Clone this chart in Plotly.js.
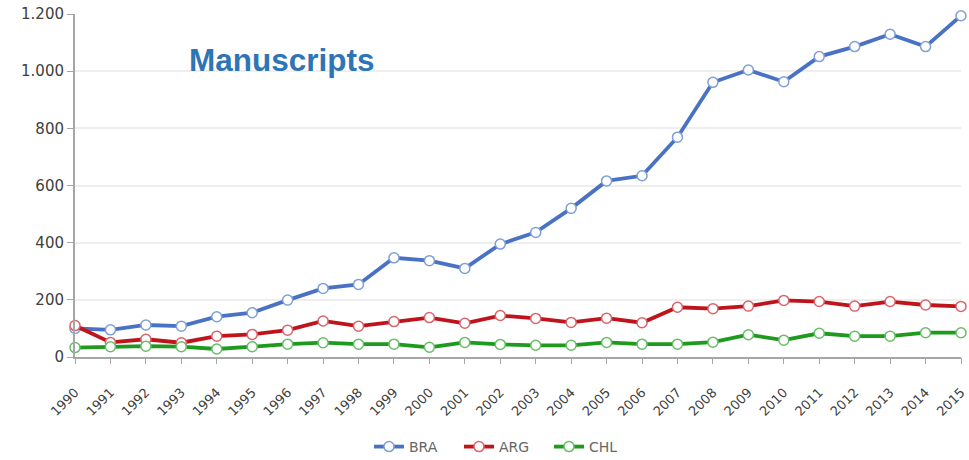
<!DOCTYPE html>
<html>
<head>
<meta charset="utf-8">
<script src="https://cdn.plot.ly/plotly-3.0.1.min.js"></script>
<style>html,body{margin:0;padding:0;background:#fff;}#chart{width:969px;height:460px;}</style>
</head>
<body>
<div id="chart"></div>
<script>
const years = [1990,1991,1992,1993,1994,1995,1996,1997,1998,1999,2000,2001,2002,2003,2004,2005,2006,2007,2008,2009,2010,2011,2012,2013,2014,2015];
const BRA = [100,95,112,108,141,155,199,240,254,347,337,310,395,436,520,616,634,769,961,1004,963,1051,1086,1129,1086,1194];
const ARG = [110,51,62,50,73,79,94,126,108,124,138,118,145,135,121,136,120,174,169,178,198,194,178,194,182,177];
const CHL = [33,36,38,36,28,36,45,50,45,45,34,51,44,41,41,51,45,45,52,78,59,83,73,73,85,85];
const seriesNames = ['BRA','ARG','CHL'];
const seriesColors = ['#4A72C4','#C0141C','#1E9A1E'];
const markerLines = ['#7F9FD8','#D9646A','#66BF66'];
const seriesData = [BRA, ARG, CHL];

const traces = seriesData.map((d,i)=>({
  x: years, y: d, name: seriesNames[i], type:'scatter', mode:'lines+markers',
  line:{color:seriesColors[i], width:3.8},
  marker:{size:10, color:'#ffffff', line:{color:markerLines[i], width:1.5}},
  cliponaxis:false
}));
// carrier trace for the visible tick-mark axis (draws nothing)
traces.push({x: years, y: BRA, xaxis:'x2', yaxis:'y', mode:'none', type:'scatter', showlegend:false, hoverinfo:'skip'});

const layout = {
  width:969, height:460,
  margin:{l:75, r:8, t:14, b:103, autoexpand:false},
  paper_bgcolor:'#fff', plot_bgcolor:'#fff',
  separators:',.',
  font:{family:'DejaVu Sans, sans-serif', color:'#404040', size:13},
  xaxis:{range:[1990,2015], tick0:1990, dtick:1, tickangle:-45, ticks:'outside', ticklen:21,
    tickcolor:'rgba(0,0,0,0)', showline:true, linecolor:'#a6a6a6', linewidth:1.5, showgrid:false, zeroline:false,
    tickfont:{family:'DejaVu Sans, sans-serif', size:13, color:'#404040'}},
  xaxis2:{overlaying:'x', anchor:'y', side:'bottom', range:[1990,2015], tick0:1990, dtick:1,
    ticks:'outside', ticklen:6, tickwidth:1, tickcolor:'#a6a6a6', showticklabels:false,
    showline:false, showgrid:false, zeroline:false},
  yaxis:{range:[0,1200], dtick:200, ticks:'outside', ticklen:6, tickcolor:'#a6a6a6', tickformat:',d',
    showline:true, linecolor:'#a6a6a6', linewidth:2, gridcolor:'#eeeeee', gridwidth:1.5, zeroline:false,
    tickfont:{family:'DejaVu Sans, sans-serif', size:15, color:'#404040'}},
  showlegend:true,
  legend:{orientation:'h', x:(369-75)/886, xanchor:'left', y:(357-447)/343, yanchor:'middle',
    entrywidth:45, entrywidthmode:'pixels',
    font:{family:'DejaVu Sans, sans-serif', size:14, color:'#666666'}},
  annotations:[{text:'<b>Manuscripts</b>', xref:'paper', yref:'paper', x:(187-75)/886, y:(357-60)/343,
    xanchor:'left', yanchor:'middle', showarrow:false,
    font:{family:'Liberation Sans, Arial, sans-serif', size:31.5, color:'#2E75B6'}}]
};
Plotly.newPlot('chart', traces, layout, {displayModeBar:false});
</script>
</body>
</html>
